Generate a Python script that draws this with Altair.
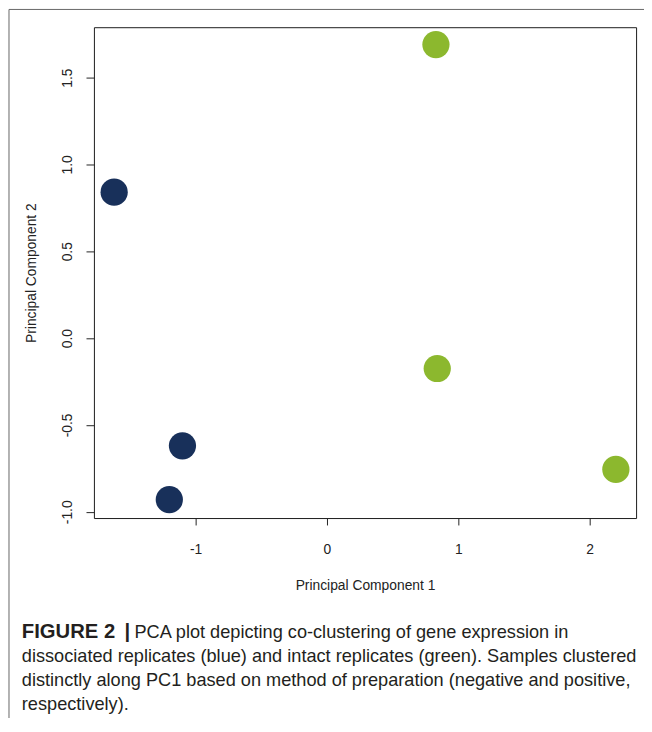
import altair as alt
import pandas as pd

# ---- data ----
pc1 = [-1.62, -1.10, -1.20, 0.83, 0.84, 2.20]
pc2 = [0.84, -0.62, -0.93, 1.69, -0.175, -0.756]
prep = ["dissociated", "dissociated", "dissociated", "intact", "intact", "intact"]
groups = ["dissociated", "intact"]
group_colors = ["#18305a", "#8cb82e"]
x_ticks = [-1, 0, 1, 2]
y_ticks = [-1.0, -0.5, 0.0, 0.5, 1.0, 1.5]
x_title = "Principal Component 1"
y_title = "Principal Component 2"
caption_bold = "FIGURE 2"
caption_bar = "|"
caption_lines = [
    "PCA plot depicting co-clustering of gene expression in",
    "dissociated replicates (blue) and intact replicates (green). Samples clustered",
    "distinctly along PC1 based on method of preparation (negative and positive,",
    "respectively).",
]

df = pd.DataFrame({"pc1": pc1, "pc2": pc2, "prep": prep})
one = pd.DataFrame({"k": [0]})

W, H = 549, 497
FONT = "Liberation Sans"
CAP_FONT = "Liberation Sans"
CAP_SIZE = 18.4
CAP_INK = "#231f20"
INK = "#222222"

points = alt.Chart(df).mark_circle(size=760, opacity=1).encode(
    x=alt.X(
        "pc1:Q",
        scale=alt.Scale(domain=[-1.774, 2.354], nice=False, zero=False),
        axis=alt.Axis(
            values=x_ticks,
            labelExpr="replace(format(datum.value, 'd'), '\u2212', '-')",
            title=x_title,
            orient="bottom",
            domain=False,
            grid=False,
            tickSize=7,
            tickColor=INK,
            labelFont=FONT,
            labelFontSize=14,
            labelColor=INK,
            labelPadding=18,
            titleFont=FONT,
            titleFontSize=14,
            titleFontWeight="normal",
            titleColor=INK,
            titleY=68,
            titleBaseline="middle",
        ),
    ),
    y=alt.Y(
        "pc2:Q",
        scale=alt.Scale(domain=[-1.036, 1.79], nice=False, zero=False),
        axis=alt.Axis(
            values=y_ticks,
            labelExpr="replace(format(datum.value, '.1f'), '\u2212', '-')",
            title=y_title,
            orient="left",
            domain=False,
            grid=False,
            tickSize=8,
            tickColor=INK,
            labelFont=FONT,
            labelFontSize=14,
            labelColor=INK,
            labelAngle=270,
            labelAlign="center",
            labelBaseline="bottom",
            labelPadding=12,
            titleFont=FONT,
            titleFontSize=14,
            titleFontWeight="normal",
            titleColor=INK,
            titleAngle=270,
            titleX=-63,
            titleY=H / 2,
            titleAlign="center",
            titleBaseline="middle",
        ),
    ),
    color=alt.Color(
        "prep:N",
        scale=alt.Scale(domain=groups, range=group_colors),
        legend=None,
    ),
)

frame_top = alt.Chart(one).mark_rule(color="#666666", strokeWidth=1).encode(
    x=alt.value(-86), x2=alt.value(W + 20), y=alt.value(-18)
)
frame_left = alt.Chart(one).mark_rule(color="#666666", strokeWidth=1).encode(
    x=alt.value(-86), y=alt.value(-18), y2=alt.value(H + 220)
)

line_y = [612, 637, 661, 685]
line_x = [41, -73, -73, -73]

cap_layers = [
    alt.Chart(one)
    .mark_text(font=CAP_FONT, fontSize=20.5, fontWeight="bold", align="left",
               baseline="middle", color=CAP_INK)
    .encode(x=alt.value(-73), y=alt.value(line_y[0]), text=alt.value(caption_bold)),
    alt.Chart(one)
    .mark_text(font=CAP_FONT, fontSize=20.5, fontWeight="bold", align="left",
               baseline="middle", color=CAP_INK)
    .encode(x=alt.value(31), y=alt.value(line_y[0]), text=alt.value(caption_bar)),
]
for txt, ly, lx in zip(caption_lines, line_y, line_x):
    cap_layers.append(
        alt.Chart(one)
        .mark_text(font=CAP_FONT, fontSize=CAP_SIZE, align="left",
                   baseline="middle", color=CAP_INK)
        .encode(x=alt.value(lx), y=alt.value(ly), text=alt.value(txt))
    )

chart = (
    alt.layer(points, frame_top, frame_left, *cap_layers)
    .properties(
        width=W,
        height=H,
        autosize=alt.AutoSizeParams(type="none"),
        padding={"left": 87, "top": 15, "right": 8, "bottom": 198},
        background="white",
    )
    .configure_view(stroke="#1a1a1a", strokeWidth=1)
)

chart.save("out.html", embed_options={"renderer": "svg", "actions": False})
